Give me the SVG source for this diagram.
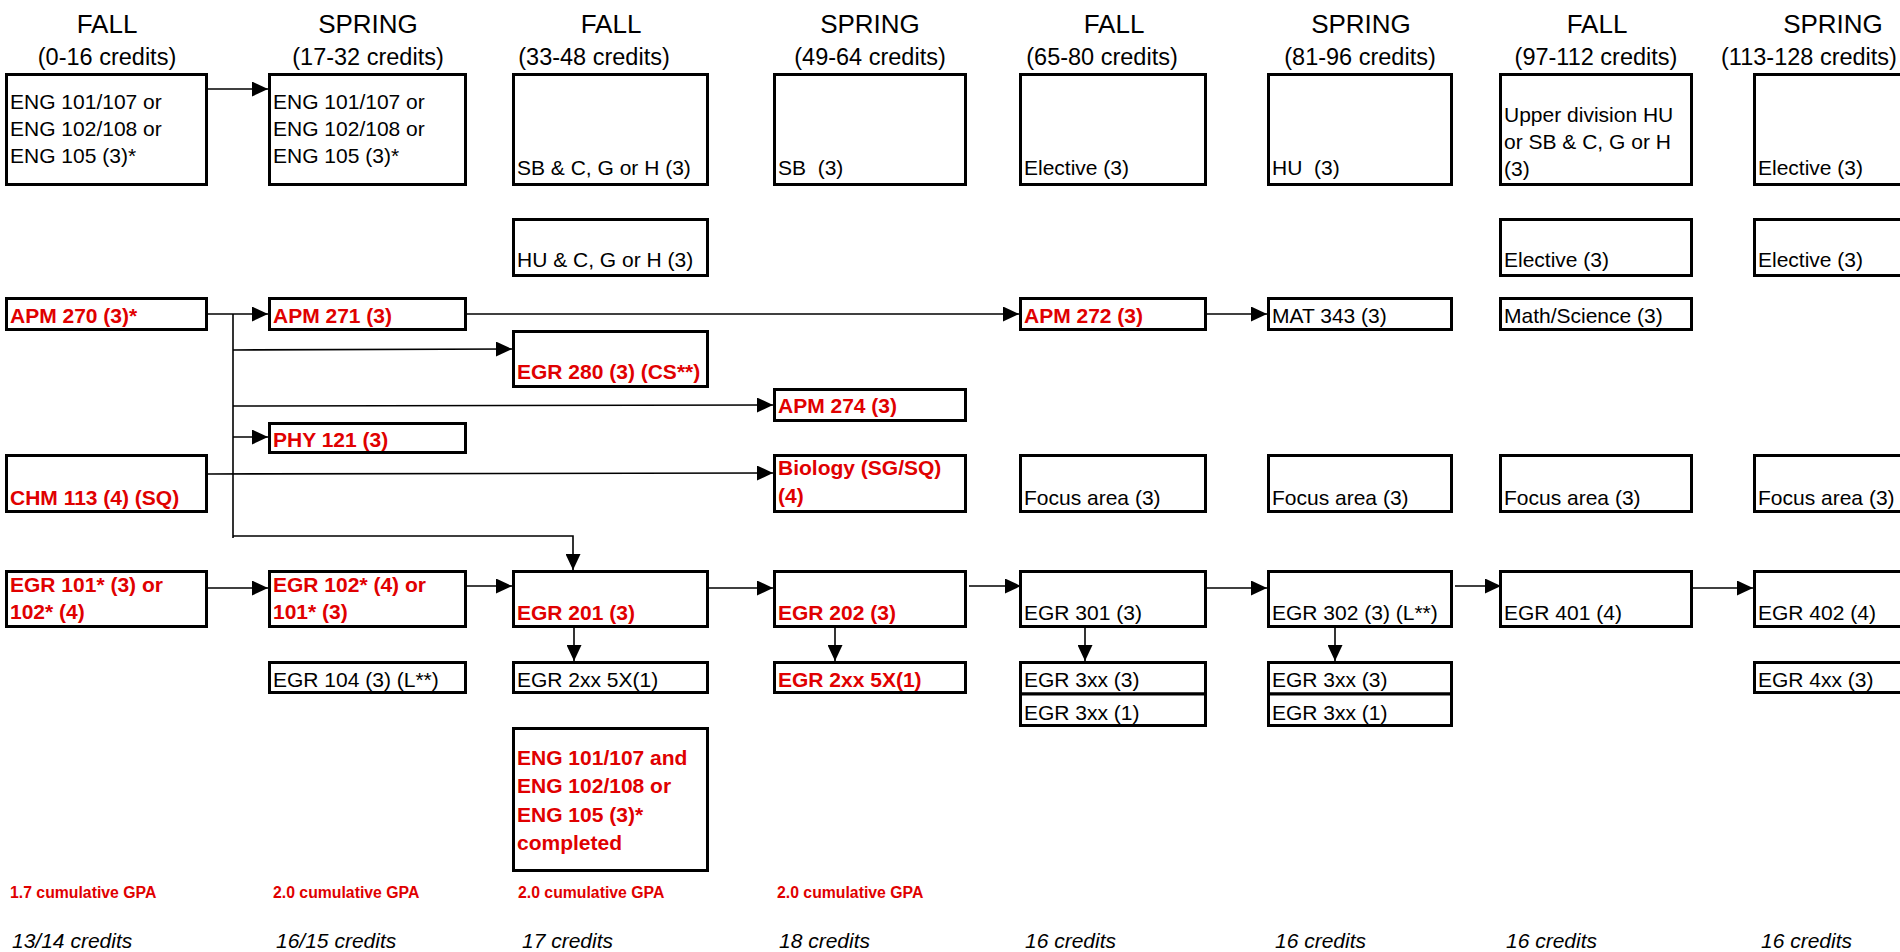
<svg xmlns="http://www.w3.org/2000/svg" width="1900" height="952" viewBox="0 0 1900 952">
<style>
.bx{fill:#fff;stroke:#000;stroke-width:3}
.t{font-family:"Liberation Sans",Arial,sans-serif;font-size:21px;fill:#000}
.r{font-family:"Liberation Sans",Arial,sans-serif;font-size:21px;font-weight:bold;fill:#e00000}
.hd{font-family:"Liberation Sans",Arial,sans-serif;font-size:26px;fill:#000;text-anchor:middle}
.hc{font-family:"Liberation Sans",Arial,sans-serif;font-size:23.5px;fill:#000;text-anchor:middle}
.gpa{font-family:"Liberation Sans",Arial,sans-serif;font-size:15.8px;font-weight:bold;fill:#e00000}
.cr{font-family:"Liberation Sans",Arial,sans-serif;font-size:21px;font-style:italic;fill:#000}
.c{fill:none;stroke:#000;stroke-width:1.6}
</style>
<defs>
<marker id="ah" markerUnits="userSpaceOnUse" markerWidth="16" markerHeight="15" refX="16" refY="7.5" orient="auto">
<path d="M0,0 L16,7.5 L0,15 z" fill="#000"/>
</marker>
</defs>
<rect width="1900" height="952" fill="#fff"/>

<g id="headers">
<text class="hd" x="107" y="33">FALL</text>
<text class="hc" x="107" y="65">(0-16 credits)</text>
<text class="hd" x="368" y="33">SPRING</text>
<text class="hc" x="368" y="65">(17-32 credits)</text>
<text class="hd" x="611" y="33">FALL</text>
<text class="hc" x="594" y="65">(33-48 credits)</text>
<text class="hd" x="870" y="33">SPRING</text>
<text class="hc" x="870" y="65">(49-64 credits)</text>
<text class="hd" x="1114" y="33">FALL</text>
<text class="hc" x="1102" y="65">(65-80 credits)</text>
<text class="hd" x="1361" y="33">SPRING</text>
<text class="hc" x="1360" y="65">(81-96 credits)</text>
<text class="hd" x="1597" y="33">FALL</text>
<text class="hc" x="1596" y="65">(97-112 credits)</text>
<text class="hd" x="1833" y="33">SPRING</text>
<text class="hc" x="1809" y="65">(113-128 credits)</text>
</g>

<g id="connectors">
<line class="c" x1="205" y1="89" x2="268" y2="89" marker-end="url(#ah)"/>
<line class="c" x1="205" y1="314" x2="268" y2="314" marker-end="url(#ah)"/>
<line class="c" x1="233" y1="314" x2="233" y2="538"/>
<line class="c" x1="233" y1="350" x2="512" y2="349" marker-end="url(#ah)"/>
<line class="c" x1="233" y1="406" x2="773" y2="405" marker-end="url(#ah)"/>
<line class="c" x1="233" y1="437" x2="268" y2="437" marker-end="url(#ah)"/>
<line class="c" x1="208" y1="474" x2="773" y2="473" marker-end="url(#ah)"/>
<polyline class="c" points="233,536 573,536 573,570" marker-end="url(#ah)"/>
<line class="c" x1="467" y1="314" x2="1019" y2="314" marker-end="url(#ah)"/>
<line class="c" x1="1207" y1="314" x2="1267" y2="314" marker-end="url(#ah)"/>
<line class="c" x1="208" y1="588" x2="268" y2="588" marker-end="url(#ah)"/>
<line class="c" x1="467" y1="586" x2="512" y2="586" marker-end="url(#ah)"/>
<line class="c" x1="709" y1="588" x2="773" y2="588" marker-end="url(#ah)"/>
<line class="c" x1="969" y1="586" x2="1021" y2="586" marker-end="url(#ah)"/>
<line class="c" x1="1207" y1="588" x2="1267" y2="588" marker-end="url(#ah)"/>
<line class="c" x1="1455" y1="586" x2="1501" y2="586" marker-end="url(#ah)"/>
<line class="c" x1="1693" y1="588" x2="1753" y2="588" marker-end="url(#ah)"/>
<line class="c" x1="574" y1="628" x2="574" y2="661" marker-end="url(#ah)"/>
<line class="c" x1="835" y1="628" x2="835" y2="661" marker-end="url(#ah)"/>
<line class="c" x1="1085" y1="628" x2="1085" y2="661" marker-end="url(#ah)"/>
<line class="c" x1="1335" y1="628" x2="1335" y2="661" marker-end="url(#ah)"/>
</g>

<g id="c1-eng"><rect class="bx" x="6.5" y="74.5" width="200" height="110"/>
<text class="t" x="10" y="109">ENG 101/107 or</text><text class="t" x="10" y="136">ENG 102/108 or</text><text class="t" x="10" y="163">ENG 105 (3)*</text></g>
<g id="c1-apm270"><rect class="bx" x="6.5" y="298.5" width="200" height="31"/><text class="r" x="10" y="323">APM 270 (3)*</text></g>
<g id="c1-chm113"><rect class="bx" x="6.5" y="455.5" width="200" height="56"/><text class="r" x="10" y="505">CHM 113 (4) (SQ)</text></g>
<g id="c1-egr101"><rect class="bx" x="6.5" y="571.5" width="200" height="55"/><text class="r" x="10" y="592">EGR 101* (3) or</text><text class="r" x="10" y="619">102* (4)</text></g>

<g id="c2-eng"><rect class="bx" x="269.5" y="74.5" width="196" height="110"/>
<text class="t" x="273" y="109">ENG 101/107 or</text><text class="t" x="273" y="136">ENG 102/108 or</text><text class="t" x="273" y="163">ENG 105 (3)*</text></g>
<g id="c2-apm271"><rect class="bx" x="269.5" y="298.5" width="196" height="31"/><text class="r" x="273" y="323">APM 271 (3)</text></g>
<g id="c2-phy121"><rect class="bx" x="269.5" y="423.5" width="196" height="29"/><text class="r" x="273" y="447">PHY 121 (3)</text></g>
<g id="c2-egr102"><rect class="bx" x="269.5" y="571.5" width="196" height="55"/><text class="r" x="273" y="592">EGR 102* (4) or</text><text class="r" x="273" y="619">101* (3)</text></g>
<g id="c2-egr104"><rect class="bx" x="269.5" y="662.5" width="196" height="30"/><text class="t" x="273" y="687">EGR 104 (3) (L**)</text></g>

<g id="c3-sb"><rect class="bx" x="513.5" y="74.5" width="194" height="110"/><text class="t" x="517" y="175">SB &amp; C, G or H (3)</text></g>
<g id="c3-hu"><rect class="bx" x="513.5" y="219.5" width="194" height="56"/><text class="t" x="517" y="267">HU &amp; C, G or H (3)</text></g>
<g id="c3-egr280"><rect class="bx" x="513.5" y="331.5" width="194" height="55"/><text class="r" x="517" y="379">EGR 280 (3) (CS**)</text></g>
<g id="c3-egr201"><rect class="bx" x="513.5" y="571.5" width="194" height="55"/><text class="r" x="517" y="620">EGR 201 (3)</text></g>
<g id="c3-egr2xx"><rect class="bx" x="513.5" y="662.5" width="194" height="30"/><text class="t" x="517" y="687">EGR 2xx 5X(1)</text></g>
<g id="c3-engdone"><rect class="bx" x="513.5" y="728.5" width="194" height="142"/>
<text class="r" x="517" y="765">ENG 101/107 and</text><text class="r" x="517" y="793">ENG 102/108 or</text><text class="r" x="517" y="822">ENG 105 (3)*</text><text class="r" x="517" y="850">completed</text></g>

<g id="c4-sb"><rect class="bx" x="774.5" y="74.5" width="191" height="110"/><text class="t" x="778" y="175" xml:space="preserve">SB  (3)</text></g>
<g id="c4-apm274"><rect class="bx" x="774.5" y="389.5" width="191" height="31"/><text class="r" x="778" y="413">APM 274 (3)</text></g>
<g id="c4-bio"><rect class="bx" x="774.5" y="455.5" width="191" height="56"/><text class="r" x="778" y="475">Biology (SG/SQ)</text><text class="r" x="778" y="503">(4)</text></g>
<g id="c4-egr202"><rect class="bx" x="774.5" y="571.5" width="191" height="55"/><text class="r" x="778" y="620">EGR 202 (3)</text></g>
<g id="c4-egr2xx"><rect class="bx" x="774.5" y="662.5" width="191" height="30"/><text class="r" x="778" y="687">EGR 2xx 5X(1)</text></g>

<g id="c5-elective"><rect class="bx" x="1020.5" y="74.5" width="185" height="110"/><text class="t" x="1024" y="175">Elective (3)</text></g>
<g id="c5-apm272"><rect class="bx" x="1020.5" y="298.5" width="185" height="31"/><text class="r" x="1024" y="323">APM 272 (3)</text></g>
<g id="c5-focus"><rect class="bx" x="1020.5" y="455.5" width="185" height="56"/><text class="t" x="1024" y="505">Focus area (3)</text></g>
<g id="c5-egr301"><rect class="bx" x="1020.5" y="571.5" width="185" height="55"/><text class="t" x="1024" y="620">EGR 301 (3)</text></g>
<g id="c5-egr3xx3"><rect class="bx" x="1020.5" y="662.5" width="185" height="31.5"/><text class="t" x="1024" y="687">EGR 3xx (3)</text></g>
<g id="c5-egr3xx1"><rect class="bx" x="1020.5" y="694" width="185" height="31.5"/><text class="t" x="1024" y="720">EGR 3xx (1)</text></g>

<g id="c6-hu"><rect class="bx" x="1268.5" y="74.5" width="183" height="110"/><text class="t" x="1272" y="175" xml:space="preserve">HU  (3)</text></g>
<g id="c6-mat343"><rect class="bx" x="1268.5" y="298.5" width="183" height="31"/><text class="t" x="1272" y="323">MAT 343 (3)</text></g>
<g id="c6-focus"><rect class="bx" x="1268.5" y="455.5" width="183" height="56"/><text class="t" x="1272" y="505">Focus area (3)</text></g>
<g id="c6-egr302"><rect class="bx" x="1268.5" y="571.5" width="183" height="55"/><text class="t" x="1272" y="620">EGR 302 (3) (L**)</text></g>
<g id="c6-egr3xx3"><rect class="bx" x="1268.5" y="662.5" width="183" height="31.5"/><text class="t" x="1272" y="687">EGR 3xx (3)</text></g>
<g id="c6-egr3xx1"><rect class="bx" x="1268.5" y="694" width="183" height="31.5"/><text class="t" x="1272" y="720">EGR 3xx (1)</text></g>

<g id="c7-upper"><rect class="bx" x="1500.5" y="74.5" width="191" height="110"/>
<text class="t" x="1504" y="122">Upper division HU</text><text class="t" x="1504" y="149">or SB &amp; C, G or H</text><text class="t" x="1504" y="176">(3)</text></g>
<g id="c7-elective"><rect class="bx" x="1500.5" y="219.5" width="191" height="56"/><text class="t" x="1504" y="267">Elective (3)</text></g>
<g id="c7-mathsci"><rect class="bx" x="1500.5" y="298.5" width="191" height="31"/><text class="t" x="1504" y="323">Math/Science (3)</text></g>
<g id="c7-focus"><rect class="bx" x="1500.5" y="455.5" width="191" height="56"/><text class="t" x="1504" y="505">Focus area (3)</text></g>
<g id="c7-egr401"><rect class="bx" x="1500.5" y="571.5" width="191" height="55"/><text class="t" x="1504" y="620">EGR 401 (4)</text></g>

<g id="c8-elective1"><rect class="bx" x="1754.5" y="74.5" width="170" height="110"/><text class="t" x="1758" y="175">Elective (3)</text></g>
<g id="c8-elective2"><rect class="bx" x="1754.5" y="219.5" width="170" height="56"/><text class="t" x="1758" y="267">Elective (3)</text></g>
<g id="c8-focus"><rect class="bx" x="1754.5" y="455.5" width="170" height="56"/><text class="t" x="1758" y="505">Focus area (3)</text></g>
<g id="c8-egr402"><rect class="bx" x="1754.5" y="571.5" width="170" height="55"/><text class="t" x="1758" y="620">EGR 402 (4)</text></g>
<g id="c8-egr4xx"><rect class="bx" x="1754.5" y="662.5" width="170" height="30"/><text class="t" x="1758" y="687">EGR 4xx (3)</text></g>

<g id="gpa">
<text class="gpa" x="10" y="898">1.7 cumulative GPA</text>
<text class="gpa" x="273" y="898">2.0 cumulative GPA</text>
<text class="gpa" x="518" y="898">2.0 cumulative GPA</text>
<text class="gpa" x="777" y="898">2.0 cumulative GPA</text>
</g>
<g id="credits">
<text class="cr" x="12" y="948">13/14 credits</text>
<text class="cr" x="276" y="948">16/15 credits</text>
<text class="cr" x="522" y="948">17 credits</text>
<text class="cr" x="779" y="948">18 credits</text>
<text class="cr" x="1025" y="948">16 credits</text>
<text class="cr" x="1275" y="948">16 credits</text>
<text class="cr" x="1506" y="948">16 credits</text>
<text class="cr" x="1761" y="948">16 credits</text>
</g>
</svg>
